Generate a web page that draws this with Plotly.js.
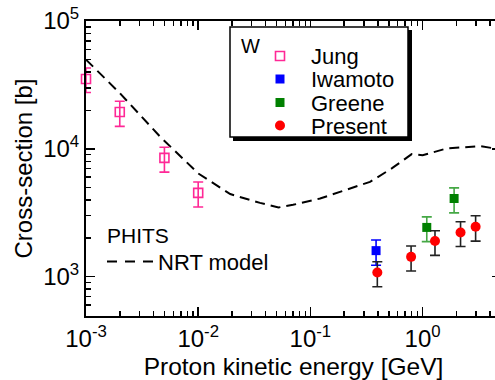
<!DOCTYPE html>
<html><head><meta charset="utf-8">
<script src="https://cdn.plot.ly/plotly-3.0.1.min.js"></script>
<style>html,body{margin:0;padding:0;overflow:hidden;background:#fff;width:495px;height:380px}#chart{width:510px;height:380px}</style>
</head><body><div id="chart"></div>
<script>
// ---- data ----
const jungE = [0.001, 0.002, 0.005, 0.01];
const jungXS = [35200, 19400, 8500, 4530];
const jungErrPlus = [7700, 4200, 1800, 970];
const jungErrMinus = [7600, 4400, 1920, 1020];

const iwamotoE = [0.385];
const iwamotoXS = [1600];
const iwamotoErrPlus = [340];
const iwamotoErrMinus = [370];

const greeneE = [1.09, 1.91];
const greeneXS = [2430, 4090];
const greeneErrPlus = [510, 860];
const greeneErrMinus = [550, 930];

const presentE = [0.395, 0.79, 1.29, 2.18, 2.97];
const presentXS = [1080, 1430, 1900, 2220, 2460];
const presentErrPlus = [230, 310, 390, 470, 540];
const presentErrMinus = [245, 320, 430, 495, 560];

const nrtE = [0.001, 0.002, 0.0046, 0.01, 0.0193, 0.0356, 0.052, 0.07, 0.122, 0.218, 0.34, 0.531, 0.8, 1.0, 1.64, 3.24, 5];
const nrtXS = [49900, 27300, 12400, 6430, 4430, 3780, 3480, 3650, 4090, 4820, 5520, 7030, 9100, 8900, 10070, 10500, 9900];

const xTickVals = [0.001, 0.01, 0.1, 1];
const xTickText = ['10<sup>-3</sup>', '10<sup>-2</sup>', '10<sup>-1</sup>', '10<sup>0</sup>'];
const yTickVals = [1000, 10000, 100000];
const yTickText = ['10<sup>3</sup>', '10<sup>4</sup>', '10<sup>5</sup>'];

const legendNames = ['Jung', 'Iwamoto', 'Greene', 'Present'];
const elementLabel = 'W';

// ---- styling ----
const FONT = 'Liberation Sans, Arial, Helvetica, sans-serif';
const PINK = '#ff2896', BLUE = '#0000ff', GREEN = '#008000', GREEN_ERR = '#45a845', RED = '#ff0000';

function eb(plus, minus, color) {
  return {type: 'data', symmetric: false, array: plus, arrayminus: minus, color: color, thickness: 1.6, width: 5};
}

const traces = [
  {x: nrtE, y: nrtXS, mode: 'lines', line: {color: 'black', width: 2, dash: '10px,6px'}, showlegend: false, hoverinfo: 'skip'},
  {x: jungE, y: jungXS, mode: 'markers', showlegend: false, cliponaxis: false,
   marker: {symbol: 'square-open', size: 9, color: PINK, line: {width: 1.6, color: PINK}},
   error_y: eb(jungErrPlus, jungErrMinus, PINK)},
  {x: iwamotoE, y: iwamotoXS, mode: 'markers', showlegend: false,
   marker: {symbol: 'square', size: 9, color: BLUE},
   error_y: eb(iwamotoErrPlus, iwamotoErrMinus, BLUE)},
  {x: greeneE, y: greeneXS, mode: 'markers', showlegend: false,
   marker: {symbol: 'square', size: 9, color: GREEN},
   error_y: eb(greeneErrPlus, greeneErrMinus, GREEN_ERR)},
  {x: presentE, y: presentXS, mode: 'markers', showlegend: false,
   marker: {symbol: 'circle', size: 10, color: RED},
   error_y: eb(presentErrPlus, presentErrMinus, '#222')}
];

// pixel -> paper helpers (plot area: x 86..501, y 21..316)
const PX = p => (p - 86) / 415;
const PY = p => (316 - p) / 295;

const legendRows = [56, 79, 102.5, 125.5];
const legendColors = [PINK, BLUE, GREEN, RED];

const shapes = [
  // legend shadow + box
  {type: 'rect', xref: 'paper', yref: 'paper', x0: PX(233), x1: PX(412), y0: PY(141), y1: PY(30), fillcolor: 'black', line: {width: 0}},
  {type: 'rect', xref: 'paper', yref: 'paper', x0: PX(230), x1: PX(408), y0: PY(137), y1: PY(27), fillcolor: 'white', line: {width: 1.5, color: 'black'}},
  // PHITS NRT legend dash
  {type: 'line', xref: 'paper', yref: 'paper', x0: PX(107), x1: PX(155), y0: PY(261.5), y1: PY(261.5), line: {color: 'black', width: 2, dash: '10px,8px'}}
];
const sym = 4.5;
legendRows.forEach((yy, i) => {
  const c = legendColors[i];
  if (i === 3) {
    shapes.push({type: 'circle', xref: 'paper', yref: 'paper', x0: PX(280 - 5), x1: PX(280 + 5), y0: PY(yy + 5), y1: PY(yy - 5), fillcolor: c, line: {width: 0}});
  } else if (i === 0) {
    shapes.push({type: 'rect', xref: 'paper', yref: 'paper', x0: PX(280 - sym), x1: PX(280 + sym), y0: PY(yy + sym), y1: PY(yy - sym), fillcolor: 'white', line: {width: 1.6, color: c}});
  } else {
    shapes.push({type: 'rect', xref: 'paper', yref: 'paper', x0: PX(280 - sym), x1: PX(280 + sym), y0: PY(yy + sym), y1: PY(yy - sym), fillcolor: c, line: {width: 0}});
  }
});

const annotations = [
  {xref: 'paper', yref: 'paper', x: PX(239), y: PY(46), xanchor: 'left', yanchor: 'middle', text: elementLabel, showarrow: false, font: {family: FONT, size: 20, color: 'black'}},
  {xref: 'paper', yref: 'paper', x: PX(105), y: PY(235), xanchor: 'left', yanchor: 'middle', text: 'PHITS', showarrow: false, font: {family: FONT, size: 21, color: 'black'}},
  {xref: 'paper', yref: 'paper', x: PX(156), y: PY(262), xanchor: 'left', yanchor: 'middle', text: 'NRT model', showarrow: false, font: {family: FONT, size: 22, color: 'black'}}
];
legendNames.forEach((n, i) => {
  annotations.push({xref: 'paper', yref: 'paper', x: PX(309), y: PY(legendRows[i] + 1), xanchor: 'left', yanchor: 'middle', text: n, showarrow: false, font: {family: FONT, size: 22, color: 'black'}});
});

const axisCommon = {
  type: 'log', showgrid: false, zeroline: false,
  showline: true, linewidth: 2, linecolor: 'black', mirror: 'ticks',
  ticks: 'inside', ticklen: 9, tickwidth: 1.5, tickcolor: 'black',
  tickmode: 'array',
  tickfont: {family: FONT, size: 24, color: 'black'},
  minor: {ticks: 'inside', ticklen: 5, tickwidth: 1.5, tickcolor: 'black', dtick: 'D1', showgrid: false}
};

const layout = {
  width: 510, height: 380,
  margin: {l: 86, r: 9, t: 21, b: 64},
  paper_bgcolor: 'white', plot_bgcolor: 'white',
  font: {family: FONT, color: 'black'},
  xaxis: Object.assign({}, axisCommon, {
    range: [-3, Math.log10(5)], tickvals: xTickVals, ticktext: xTickText,
    title: {text: 'Proton kinetic energy [GeV]', font: {family: FONT, size: 24.5, color: 'black'}, standoff: 8}
  }),
  yaxis: Object.assign({}, axisCommon, {
    range: [Math.log10(493), 5], tickvals: yTickVals, ticktext: yTickText,
    title: {text: 'Cross-section [b]', font: {family: FONT, size: 24, color: 'black'}, standoff: 4}
  }),
  shapes: shapes,
  annotations: annotations,
  showlegend: false
};

Plotly.newPlot('chart', traces, layout, {staticPlot: true, displayModeBar: false});
</script>
</body></html>
